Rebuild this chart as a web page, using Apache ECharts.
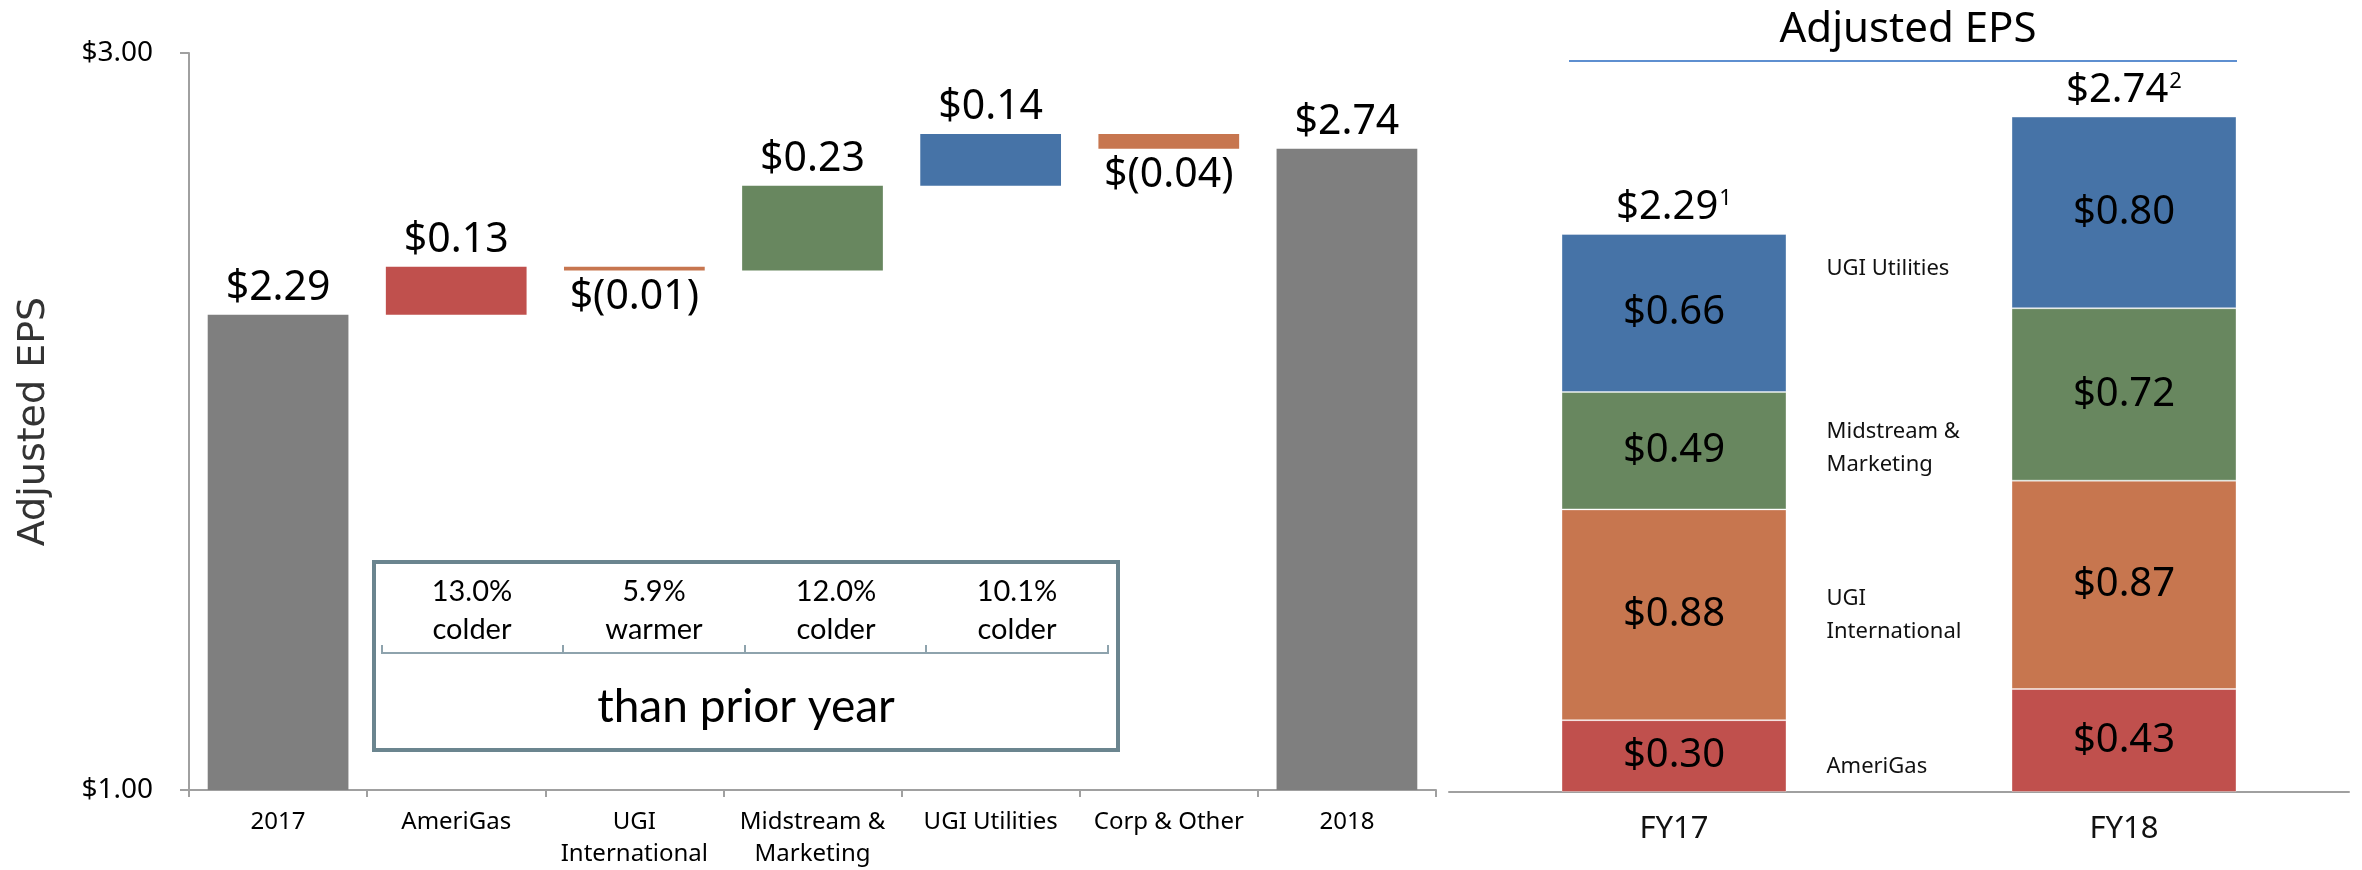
<!DOCTYPE html>
<html lang="en">
<head>
<meta charset="utf-8">
<title>Adjusted EPS bridge</title>
<style>
  html, body { margin: 0; padding: 0; background: #fff; }
  #main { width: 2362px; height: 870px; }
</style>
</head>
<body>
<div id="main"></div>
<script src="https://cdn.jsdelivr.net/npm/echarts@6/dist/echarts.min.js"></script>
<script type="text/javascript">
// bridge (left) data
var categories = ['2017', 'AmeriGas', 'UGI\nInternational', 'Midstream &\nMarketing', 'UGI Utilities', 'Corp & Other', '2018'];
var bridgeValues = [2.29, 0.13, -0.01, 0.23, 0.14, -0.04, 2.74];
var isTotal = [true, false, false, false, false, false, true];
var yMin = 1, yMax = 3;
var weatherNotes = ['13.0%\ncolder', '5.9%\nwarmer', '12.0%\ncolder', '10.1%\ncolder'];
var weatherCaption = 'than prior year';

// segment (right) data
var periods = ['FY17', 'FY18'];
var amerigas = [0.30, 0.43];
var ugiIntl = [0.88, 0.87];
var midstream = [0.49, 0.72];
var ugiUtilities = [0.66, 0.80];
var totals = [2.29, 2.74];
var footnotes = ['1', '2'];
var segmentNames = ['AmeriGas', 'UGI\nInternational', 'Midstream &\nMarketing', 'UGI Utilities'];

var C = { gray: '#7f7f7f', red: '#c0504d', orange: '#c7764f', green: '#68875f', blue: '#4673a7' };
var bridgeColors = [C.gray, C.red, C.orange, C.green, C.blue, C.orange, C.gray];
var FONT = 'Noto Sans';

function money(v) {
    return v < 0 ? '$(' + Math.abs(v).toFixed(2) + ')' : '$' + v.toFixed(2);
}

// waterfall: transparent base + visible piece
var base = [], piece = [], run = 0;
bridgeValues.forEach(function (v, i) {
    if (isTotal[i]) {
        base.push(yMin); piece.push(v - yMin); run = v;
    } else if (v >= 0) {
        base.push(run); piece.push(v); run += v;
    } else {
        run += v; base.push(run); piece.push(-v);
    }
});

var myChart = echarts.init(document.getElementById('main'));

var segSeries = [
    { name: 'AmeriGas', data: amerigas, color: C.red, label: segmentNames[0], off: [0, 11] },
    { name: 'UGI International', data: ugiIntl, color: C.orange, label: segmentNames[1], off: [0, 0] },
    { name: 'Midstream & Marketing', data: midstream, color: C.green, label: segmentNames[2], off: [0, -2] },
    { name: 'UGI Utilities', data: ugiUtilities, color: C.blue, label: segmentNames[3], off: [0, -44] }
];

var series = [
    {
        name: 'base', type: 'bar', stack: 'wf', xAxisIndex: 0, yAxisIndex: 0,
        barCategoryGap: '21%', silent: true,
        itemStyle: { color: 'transparent' },
        data: base
    },
    {
        name: 'change', type: 'bar', stack: 'wf', xAxisIndex: 0, yAxisIndex: 0,
        barCategoryGap: '21%',
        data: piece.map(function (h, i) {
            var v = bridgeValues[i];
            return {
                value: h,
                itemStyle: { color: bridgeColors[i] },
                label: {
                    show: true,
                    position: (!isTotal[i] && v < 0) ? 'bottom' : 'top',
                    distance: 6,
                    formatter: money(v),
                    fontSize: 41, color: '#000', fontFamily: FONT
                }
            };
        })
    }
];

segSeries.forEach(function (s) {
    series.push({
        name: s.name, type: 'bar', stack: 'eps', xAxisIndex: 1, yAxisIndex: 1,
        barWidth: '50%', barGap: '-100%',
        itemStyle: { color: s.color, borderColor: 'rgba(255,255,255,0.35)', borderWidth: 1 },
        label: {
            show: true, position: 'inside', fontSize: 40, color: '#000', fontFamily: FONT,
            formatter: function (p) { return money(p.value); }
        },
        data: s.data
    });
});

// totals on top of each stack
series.push({
    name: 'total', type: 'bar', stack: 'eps', xAxisIndex: 1, yAxisIndex: 1,
    barWidth: '50%', barGap: '-100%', silent: true,
    itemStyle: { color: 'transparent' },
    label: {
        show: true, position: 'top', distance: 6,
        formatter: function (p) { return '{v|' + money(totals[p.dataIndex]) + '}{s|' + footnotes[p.dataIndex] + '}'; },
        rich: {
            v: { fontSize: 40, color: '#000', fontFamily: FONT },
            s: { fontSize: 22, color: '#000', fontFamily: FONT, verticalAlign: 'top', padding: [0, 0, 16, 1] }
        }
    },
    data: [0, 0]
});

// segment names beside FY17
segSeries.forEach(function (s) {
    series.push({
        name: s.name + ' label', type: 'bar', stack: 'names', xAxisIndex: 1, yAxisIndex: 1,
        barWidth: '50%', barGap: '-100%', silent: true,
        itemStyle: { color: 'transparent' },
        label: {
            show: true, position: 'right', distance: 40, offset: s.off,
            align: 'left', fontSize: 22, lineHeight: 33, color: '#111', fontFamily: FONT,
            formatter: s.label
        },
        data: [s.data[0], '-']
    });
});

// box with weather notes
var noteCenters = [472, 654, 836, 1017];
var graphics = [
    { type: 'rect', shape: { x: 374, y: 562, width: 744, height: 188 },
      style: { fill: '#fff', stroke: '#6b858f', lineWidth: 4 }, z: 1 },
    { type: 'polyline', shape: { points: [[382, 645], [382, 653], [1108, 653], [1108, 645]] },
      style: { stroke: '#8ea3ad', lineWidth: 2, fill: null }, z: 2 },
    { type: 'text', style: { text: weatherCaption, x: 746, y: 707, align: 'center', verticalAlign: 'middle',
      fontSize: 46, fontFamily: 'Lato', fill: '#000' }, z: 2 },
    { type: 'line', shape: { x1: 1569, y1: 61, x2: 2237, y2: 61 },
      style: { stroke: '#5e8fd0', lineWidth: 2 } }
];
[563, 745, 926].forEach(function (x) {
    graphics.push({ type: 'line', shape: { x1: x, y1: 645, x2: x, y2: 653 },
        style: { stroke: '#8ea3ad', lineWidth: 2 }, z: 2 });
});
weatherNotes.forEach(function (t, i) {
    graphics.push({ type: 'text', z: 2, style: { text: t, x: noteCenters[i], y: 611, align: 'center',
        verticalAlign: 'middle', fontSize: 29, lineHeight: 38, fontFamily: 'Lato', fill: '#000' } });
});

var option = {
    backgroundColor: '#fff',
    animation: false,
    title: {
        text: 'Adjusted EPS', left: 1903, top: 4, textAlign: 'center',
        textStyle: { fontSize: 42, fontWeight: 'normal', color: '#000', fontFamily: FONT }
    },
    grid: [
        { left: 189, right: 926, top: 53, bottom: 80 },
        { left: 1449, right: 13, top: 73.5, bottom: 78 }
    ],
    xAxis: [
        {
            type: 'category', gridIndex: 0, data: categories,
            axisLine: { lineStyle: { color: '#a0a0a0', width: 2 } },
            axisTick: { show: true, length: 7, lineStyle: { color: '#a0a0a0', width: 2 } },
            axisLabel: { fontSize: 24, lineHeight: 32, margin: 16, color: '#000', fontFamily: FONT, interval: 0 }
        },
        {
            type: 'category', gridIndex: 1, data: periods,
            axisLine: { lineStyle: { color: '#a0a0a0', width: 2 } },
            axisTick: { show: false },
            axisLabel: { fontSize: 31, margin: 22, color: '#111', fontFamily: FONT }
        }
    ],
    yAxis: [
        {
            type: 'value', gridIndex: 0, min: yMin, max: yMax, interval: 2,
            name: 'Adjusted EPS', nameLocation: 'middle', nameRotate: 90, nameGap: 136,
            nameTextStyle: { fontSize: 38, color: '#333', fontFamily: 'DejaVu Sans' },
            axisLine: { show: true, lineStyle: { color: '#a0a0a0', width: 2 } },
            axisTick: { show: true, length: 9, lineStyle: { color: '#a0a0a0', width: 2 } },
            splitLine: { show: false },
            axisLabel: { fontSize: 28, margin: 36, color: '#000', fontFamily: FONT,
                formatter: function (v) { return '$' + v.toFixed(2); } }
        },
        {
            type: 'value', gridIndex: 1, min: 0, max: 3, show: false, splitLine: { show: false }
        }
    ],
    graphic: graphics,
    series: series
};

myChart.setOption(option);
</script>
</body>
</html>
